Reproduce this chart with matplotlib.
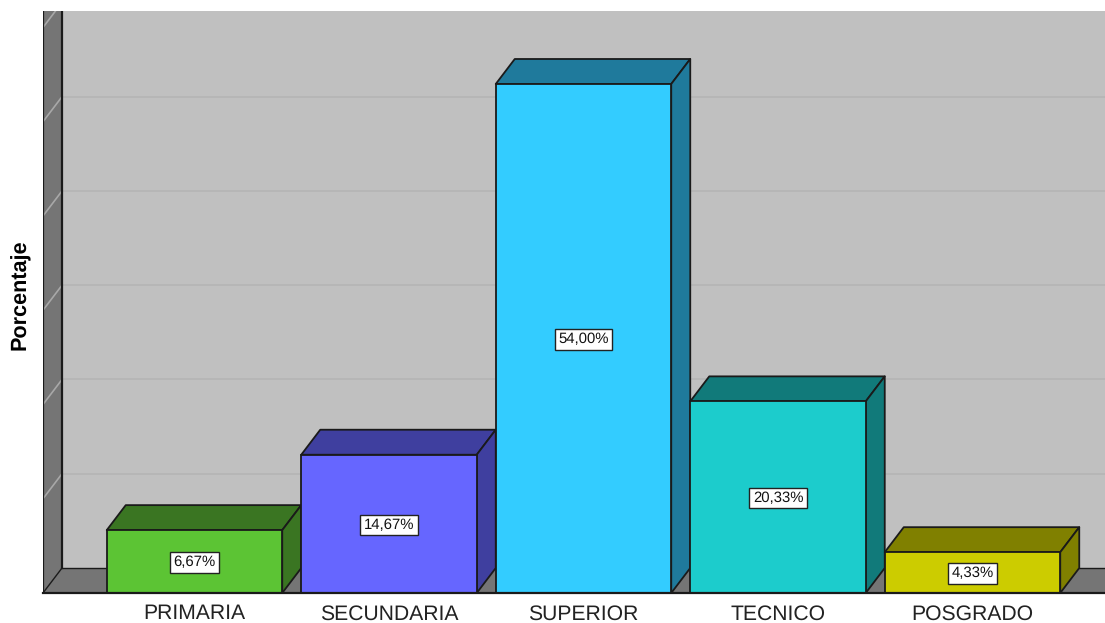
import matplotlib
matplotlib.use('Agg')
import matplotlib.pyplot as plt
from matplotlib.patches import Polygon

categories = ['PRIMARIA', 'SECUNDARIA', 'SUPERIOR', 'TECNICO', 'POSGRADO']
values = [6.67, 14.67, 54.00, 20.33, 4.33]
labels = ['6,67%', '14,67%', '54,00%', '20,33%', '4,33%']
front_colors = ['#5CC434', '#6666FF', '#33CCFF', '#1CCCCC', '#CCCC00']
dark_colors = ['#3A7522', '#3F3F9F', '#1F7A9C', '#117A7A', '#808000']
grid_values = [10, 20, 30, 40, 50, 60]

plt.rcParams['font.family'] = ['Liberation Sans', 'DejaVu Sans']
plt.rcParams['text.hinting'] = 'no_hinting'

W, H = 1105, 623
fig = plt.figure(figsize=(W / 100, H / 100), dpi=100)
# plot area in pixels: x 43..1105, y 11..593
ax = fig.add_axes([43 / W, (H - 593) / H, (W - 43) / W, 582 / H])

x_unit = 194.5   # px per category
y_unit = 9.426   # px per percent
xmin = (43 - 194.5) / x_unit
xmax = (W - 194.5) / x_unit
ymax = 582 / y_unit
ax.set_xlim(xmin, xmax)
ax.set_ylim(0, ymax)

# depth of the fake 3D view
dx = 19 / x_unit
dy = 25 / y_unit
bar_w = 175.5 / x_unit
line = '#1A1A1A'
wall = '#757575'

# back wall, side wall, floor
ax.add_patch(Polygon([(xmin + dx, dy), (xmax, dy), (xmax, ymax), (xmin + dx, ymax)],
                     fc='#C0C0C0', ec='none', zorder=1))
ax.add_patch(Polygon([(xmin, 0), (xmin + dx, dy), (xmin + dx, ymax), (xmin, ymax)],
                     fc=wall, ec='none', zorder=1))
ax.add_patch(Polygon([(xmin, 0), (xmax, 0), (xmax, dy), (xmin + dx, dy)],
                     fc=wall, ec='none', zorder=1))

for g in grid_values:
    ax.plot([xmin + dx, xmax], [g + dy, g + dy], color='#B6B6B6', lw=1.4, zorder=2)
    ax.plot([xmin, xmin + dx], [g, g + dy], color='#A8A8A8', lw=1.2, zorder=2)

ax.plot([xmin, xmin], [0, ymax], color=line, lw=1.6, zorder=3)
ax.plot([xmin + dx, xmin + dx], [dy, ymax], color=line, lw=1.6, zorder=3)
ax.plot([xmin + dx, xmax], [dy, dy], color=line, lw=1, zorder=3)
ax.plot([xmin, xmin + dx], [0, dy], color=line, lw=1, zorder=3)

for i, v in enumerate(values):
    left = i - bar_w / 2
    right = i + bar_w / 2
    ax.add_patch(Polygon([(left, v), (right, v), (right + dx, v + dy), (left + dx, v + dy)],
                         fc=dark_colors[i], ec=line, lw=1.3, zorder=4, joinstyle='round'))
    ax.add_patch(Polygon([(right, 0), (right + dx, dy), (right + dx, v + dy), (right, v)],
                         fc=dark_colors[i], ec=line, lw=1.3, zorder=4, joinstyle='round'))

ax.bar(range(len(values)), values, width=bar_w, color=front_colors,
       edgecolor=line, linewidth=1.3, zorder=5)

for i, v in enumerate(values):
    ax.annotate(labels[i], (i, v / 2), xytext=(0, -0.7), textcoords='offset points',
                ha='center', va='center', fontsize=10.7, color='#111111', zorder=6,
                bbox=dict(boxstyle='square,pad=0.22', fc='white', ec='#222222', lw=1))

for s in ['top', 'left', 'right']:
    ax.spines[s].set_visible(False)
ax.spines['bottom'].set_color(line)
ax.spines['bottom'].set_linewidth(1.6)
ax.spines['bottom'].set_zorder(7)

ax.set_xticks(range(len(categories)))
ax.set_xticklabels(categories, fontsize=15.2, color='#222222')
ax.tick_params(axis='x', length=0, pad=8)
ax.set_yticks([])
ax.set_ylabel('Porcentaje', fontsize=15.6, fontweight='bold', color='black')
ax.yaxis.set_label_coords(-12 / (W - 43), (593 - 295) / 582)

plt.savefig('out.png', dpi=100)
